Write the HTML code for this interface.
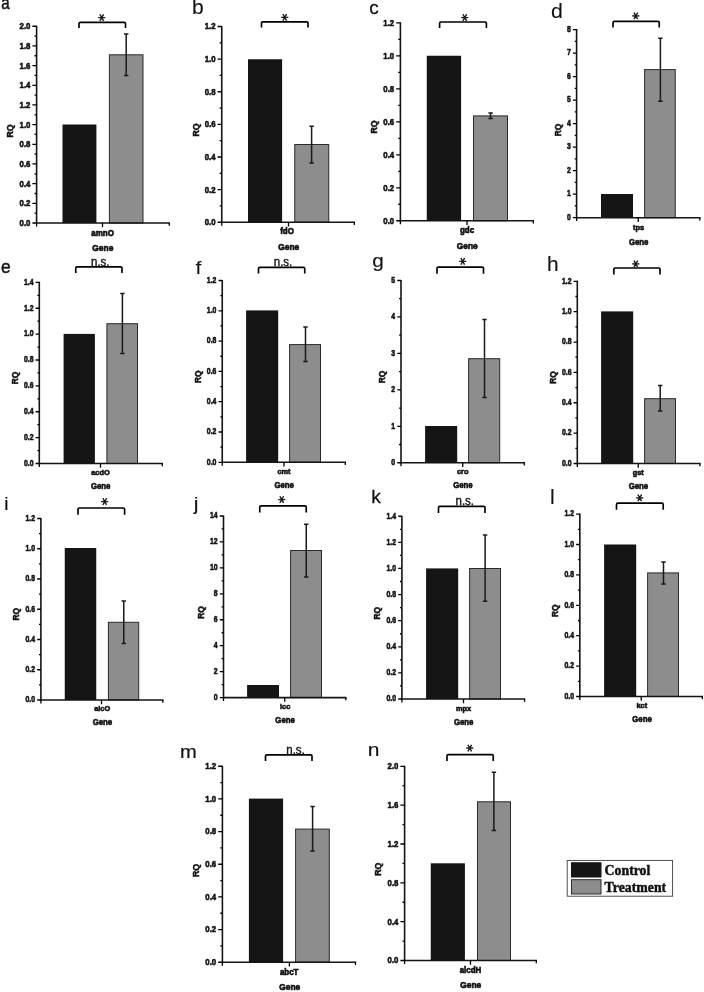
<!DOCTYPE html>
<html><head><meta charset="utf-8"><title>RQ gene expression</title>
<style>
html,body{margin:0;padding:0;background:#fff}
svg{display:block}
text{font-family:"Liberation Sans",Arial,sans-serif;fill:#111}
.t{font-size:7.8px;font-weight:bold;stroke:#111;stroke-width:.5px}
.gn{font-size:7.8px;font-weight:bold;stroke:#111;stroke-width:.6px}
.G{font-size:8.4px;font-weight:bold;stroke:#111;stroke-width:.6px}
.rq{font-size:8.8px;font-weight:bold;stroke:#111;stroke-width:.5px}
.L{font-size:19px;stroke:#111}
.ns{font-size:13.7px;stroke:#111;stroke-width:.42px}
.s{font-size:14.5px;stroke:#111;stroke-width:.6px;font-family:"DejaVu Sans",sans-serif}
.lg{font-family:"Liberation Serif","Times New Roman",serif;font-weight:bold;font-size:13.8px;stroke:#111;stroke-width:.45px}
</style></head><body>
<svg width="704" height="992" viewBox="0 0 704 992">
<rect width="704" height="992" fill="#fff"/>
<g><rect x="62.5" y="124.5" width="33.9" height="98.5" fill="#151515"/><rect x="109.4" y="54.8" width="33.6" height="168.2" fill="#8d8d8d" stroke="#2a2a2a" stroke-width="1"/><path d="M126.2 34V75.5M124 34H128.4M124 75.5H128.4" stroke="#1a1a1a" stroke-width="1.5" fill="none"/><path d="M36.6 25.65V223H170" stroke="#141414" stroke-width="1.6" fill="none" stroke-linejoin="miter"/><path d="M36.6 223h-4.2M36.6 213.16h-2.1M36.6 203.32h-4.2M36.6 193.49h-2.1M36.6 183.65h-4.2M36.6 173.81h-2.1M36.6 163.97h-4.2M36.6 154.14h-2.1M36.6 144.3h-4.2M36.6 134.46h-2.1M36.6 124.62h-4.2M36.6 114.79h-2.1M36.6 104.95h-4.2M36.6 95.11h-2.1M36.6 85.28h-4.2M36.6 75.44h-2.1M36.6 65.6h-4.2M36.6 55.76h-2.1M36.6 45.93h-4.2M36.6 36.09h-2.1M36.6 26.25h-4.2M36.6 223v3.4M102.5 223v4.2M169.3 223v2.7" stroke="#000" stroke-width="1.3" fill="none"/><text transform="translate(30.4 225.9) scale(1 1.12)" text-anchor="end" class="t">0.0</text><text transform="translate(30.4 206.22) scale(1 1.12)" text-anchor="end" class="t">0.2</text><text transform="translate(30.4 186.55) scale(1 1.12)" text-anchor="end" class="t">0.4</text><text transform="translate(30.4 166.88) scale(1 1.12)" text-anchor="end" class="t">0.6</text><text transform="translate(30.4 147.2) scale(1 1.12)" text-anchor="end" class="t">0.8</text><text transform="translate(30.4 127.53) scale(1 1.12)" text-anchor="end" class="t">1.0</text><text transform="translate(30.4 107.85) scale(1 1.12)" text-anchor="end" class="t">1.2</text><text transform="translate(30.4 88.18) scale(1 1.12)" text-anchor="end" class="t">1.4</text><text transform="translate(30.4 68.5) scale(1 1.12)" text-anchor="end" class="t">1.6</text><text transform="translate(30.4 48.83) scale(1 1.12)" text-anchor="end" class="t">1.8</text><text transform="translate(30.4 29.15) scale(1 1.12)" text-anchor="end" class="t">2.0</text><path d="M79 28V23.6Q79 22.3 80.3 22.3H124.2Q125.5 22.3 125.5 23.6V28" stroke="#000" stroke-width="1.65" fill="none"/><text transform="translate(103 17.6) rotate(90)" x="-3.55" y="7.54" class="s">*</text><text transform="translate(102.6 235.9) scale(1.02 1.12)" text-anchor="middle" class="gn">amnO</text><text transform="translate(102.8 251.1) scale(1.000 1.150)" text-anchor="middle" class="G">Gene</text><text transform="translate(12.7 131) rotate(-90) scale(1.0 1.0)" text-anchor="middle" class="rq">RQ</text><text transform="translate(1.15 9.40) scale(0.800 0.95)" stroke-width="0.50" class="L">a</text></g>
<g><rect x="248" y="59.25" width="34.1" height="163" fill="#151515"/><rect x="294.75" y="144.5" width="34" height="77.75" fill="#8d8d8d" stroke="#2a2a2a" stroke-width="1"/><path d="M311.6 126.3V163M309.4 126.3H313.8M309.4 163H313.8" stroke="#1a1a1a" stroke-width="1.5" fill="none"/><path d="M221.75 25.9V222.25H355" stroke="#141414" stroke-width="1.6" fill="none" stroke-linejoin="miter"/><path d="M221.75 222.25h-4.2M221.75 205.94h-2.1M221.75 189.62h-4.2M221.75 173.31h-2.1M221.75 157h-4.2M221.75 140.69h-2.1M221.75 124.38h-4.2M221.75 108.06h-2.1M221.75 91.75h-4.2M221.75 75.44h-2.1M221.75 59.12h-4.2M221.75 42.81h-2.1M221.75 26.5h-4.2M221.75 222.25v3.4M288.5 222.25v4.2M354.3 222.25v2.7" stroke="#000" stroke-width="1.3" fill="none"/><text transform="translate(215.55 225.15) scale(1 1.12)" text-anchor="end" class="t">0.0</text><text transform="translate(215.55 192.53) scale(1 1.12)" text-anchor="end" class="t">0.2</text><text transform="translate(215.55 159.9) scale(1 1.12)" text-anchor="end" class="t">0.4</text><text transform="translate(215.55 127.28) scale(1 1.12)" text-anchor="end" class="t">0.6</text><text transform="translate(215.55 94.65) scale(1 1.12)" text-anchor="end" class="t">0.8</text><text transform="translate(215.55 62.02) scale(1 1.12)" text-anchor="end" class="t">1.0</text><text transform="translate(215.55 29.4) scale(1 1.12)" text-anchor="end" class="t">1.2</text><path d="M261.5 27.5V23.1Q261.5 21.8 262.8 21.8H306.7Q308 21.8 308 23.1V27.5" stroke="#000" stroke-width="1.65" fill="none"/><text transform="translate(285.6 17.4) rotate(90)" x="-3.55" y="7.54" class="s">*</text><text transform="translate(287 234.4) scale(1.02 1.12)" text-anchor="middle" class="gn">fdO</text><text transform="translate(288.7 249.85) scale(1.000 1.150)" text-anchor="middle" class="G">Gene</text><text transform="translate(199.2 130) rotate(-90) scale(1.0 1.0)" text-anchor="middle" class="rq">RQ</text><text transform="translate(192.12 13.75) scale(1.106 1.06)" stroke-width="0.11" class="L">b</text></g>
<g><rect x="426.75" y="55.75" width="34.35" height="165" fill="#151515"/><rect x="473.5" y="115.9" width="34" height="104.85" fill="#8d8d8d" stroke="#2a2a2a" stroke-width="1"/><path d="M490.6 113.1V118.5M488.4 113.1H492.8M488.4 118.5H492.8" stroke="#1a1a1a" stroke-width="1.5" fill="none"/><path d="M400.4 22.3V220.75H534" stroke="#141414" stroke-width="1.6" fill="none" stroke-linejoin="miter"/><path d="M400.4 220.75h-4.2M400.4 204.26h-2.1M400.4 187.78h-4.2M400.4 171.29h-2.1M400.4 154.8h-4.2M400.4 138.31h-2.1M400.4 121.83h-4.2M400.4 105.34h-2.1M400.4 88.85h-4.2M400.4 72.36h-2.1M400.4 55.88h-4.2M400.4 39.39h-2.1M400.4 22.9h-4.2M400.4 220.75v3.4M467 220.75v4.2M533.3 220.75v2.7" stroke="#000" stroke-width="1.3" fill="none"/><text transform="translate(394.2 223.65) scale(1 1.12)" text-anchor="end" class="t">0.0</text><text transform="translate(394.2 190.68) scale(1 1.12)" text-anchor="end" class="t">0.2</text><text transform="translate(394.2 157.7) scale(1 1.12)" text-anchor="end" class="t">0.4</text><text transform="translate(394.2 124.73) scale(1 1.12)" text-anchor="end" class="t">0.6</text><text transform="translate(394.2 91.75) scale(1 1.12)" text-anchor="end" class="t">0.8</text><text transform="translate(394.2 58.77) scale(1 1.12)" text-anchor="end" class="t">1.0</text><text transform="translate(394.2 25.8) scale(1 1.12)" text-anchor="end" class="t">1.2</text><path d="M439.6 27.9V23.3Q439.6 22 440.9 22H485.1Q486.4 22 486.4 23.3V27.9" stroke="#000" stroke-width="1.65" fill="none"/><text transform="translate(465.2 17.6) rotate(90)" x="-3.55" y="7.54" class="s">*</text><text transform="translate(467 233.4) scale(1.02 1.12)" text-anchor="middle" class="gn">gdc</text><text transform="translate(467.2 248.6) scale(1.000 1.150)" text-anchor="middle" class="G">Gene</text><text transform="translate(377.2 127) rotate(-90) scale(1.0 1.0)" text-anchor="middle" class="rq">RQ</text><text transform="translate(369.36 14.00) scale(0.988 0.95)" stroke-width="0.32" class="L">c</text></g>
<g><rect x="601" y="194" width="32" height="23.7" fill="#151515"/><rect x="644.6" y="69.6" width="30.65" height="148.1" fill="#8d8d8d" stroke="#2a2a2a" stroke-width="1"/><path d="M660.4 38.25V101.25M658.2 38.25H662.6M658.2 101.25H662.6" stroke="#1a1a1a" stroke-width="1.5" fill="none"/><path d="M576.6 29V217.7H700.5" stroke="#141414" stroke-width="1.6" fill="none" stroke-linejoin="miter"/><path d="M576.6 217.7h-3.7M576.6 205.94h-1.9M576.6 194.19h-3.7M576.6 182.43h-1.9M576.6 170.67h-3.7M576.6 158.92h-1.9M576.6 147.16h-3.7M576.6 135.41h-1.9M576.6 123.65h-3.7M576.6 111.89h-1.9M576.6 100.14h-3.7M576.6 88.38h-1.9M576.6 76.62h-3.7M576.6 64.87h-1.9M576.6 53.11h-3.7M576.6 41.36h-1.9M576.6 29.6h-3.7M576.6 217.7v3.4M638.25 217.7v4.2M699.8 217.7v2.7" stroke="#000" stroke-width="1.3" fill="none"/><text transform="translate(570.8 220) scale(0.885 1.14)" text-anchor="end" class="t">0</text><text transform="translate(570.8 196.49) scale(0.885 1.14)" text-anchor="end" class="t">1</text><text transform="translate(570.8 172.97) scale(0.885 1.14)" text-anchor="end" class="t">2</text><text transform="translate(570.8 149.46) scale(0.885 1.14)" text-anchor="end" class="t">3</text><text transform="translate(570.8 125.95) scale(0.885 1.14)" text-anchor="end" class="t">4</text><text transform="translate(570.8 102.44) scale(0.885 1.14)" text-anchor="end" class="t">5</text><text transform="translate(570.8 78.92) scale(0.885 1.14)" text-anchor="end" class="t">6</text><text transform="translate(570.8 55.41) scale(0.885 1.14)" text-anchor="end" class="t">7</text><text transform="translate(570.8 31.9) scale(0.885 1.14)" text-anchor="end" class="t">8</text><path d="M613 27.5V22.6Q613 21.3 614.3 21.3H657.95Q659.25 21.3 659.25 22.6V27.5" stroke="#000" stroke-width="1.65" fill="none"/><text transform="translate(636.5 15.9) rotate(90)" x="-3.55" y="7.54" class="s">*</text><text transform="translate(638.5 230.2) scale(0.95 0.94)" text-anchor="middle" class="gn">tps</text><text transform="translate(638.7 244.63) scale(0.930 1.069)" text-anchor="middle" class="G">Gene</text><text transform="translate(560.9 130) rotate(-90) scale(0.95 1.04)" text-anchor="middle" class="rq">RQ</text><text transform="translate(551.08 17.90) scale(1.120 1.06)" stroke-width="0.09" class="L">d</text></g>
<g><rect x="63.6" y="333.9" width="31.3" height="129.6" fill="#151515"/><rect x="106.9" y="323.7" width="30.6" height="139.8" fill="#8d8d8d" stroke="#2a2a2a" stroke-width="1"/><path d="M122.4 293.5V353.5M120.2 293.5H124.6M120.2 353.5H124.6" stroke="#1a1a1a" stroke-width="1.5" fill="none"/><path d="M39.3 281.8V463.5H163" stroke="#141414" stroke-width="1.6" fill="none" stroke-linejoin="miter"/><path d="M39.3 463.5h-3.7M39.3 450.56h-1.9M39.3 437.63h-3.7M39.3 424.69h-1.9M39.3 411.76h-3.7M39.3 398.82h-1.9M39.3 385.89h-3.7M39.3 372.95h-1.9M39.3 360.01h-3.7M39.3 347.08h-1.9M39.3 334.14h-3.7M39.3 321.21h-1.9M39.3 308.27h-3.7M39.3 295.34h-1.9M39.3 282.4h-3.7M39.3 463.5v3.4M100.5 463.5v4.2M162.3 463.5v2.7" stroke="#000" stroke-width="1.3" fill="none"/><text transform="translate(33.5 465.8) scale(0.885 1.14)" text-anchor="end" class="t">0.0</text><text transform="translate(33.5 439.93) scale(0.885 1.14)" text-anchor="end" class="t">0.2</text><text transform="translate(33.5 414.06) scale(0.885 1.14)" text-anchor="end" class="t">0.4</text><text transform="translate(33.5 388.19) scale(0.885 1.14)" text-anchor="end" class="t">0.6</text><text transform="translate(33.5 362.31) scale(0.885 1.14)" text-anchor="end" class="t">0.8</text><text transform="translate(33.5 336.44) scale(0.885 1.14)" text-anchor="end" class="t">1.0</text><text transform="translate(33.5 310.57) scale(0.885 1.14)" text-anchor="end" class="t">1.2</text><text transform="translate(33.5 284.7) scale(0.885 1.14)" text-anchor="end" class="t">1.4</text><path d="M75.75 273V268.1Q75.75 266.8 77.05 266.8H120.7Q122 266.8 122 268.1V273" stroke="#000" stroke-width="1.65" fill="none"/><text transform="translate(100.3 265.7) scale(0.84 1)" text-anchor="middle" class="ns">n.s.</text><text transform="translate(100.5 474.7) scale(0.95 0.94)" text-anchor="middle" class="gn">acdO</text><text transform="translate(100.7 488.88) scale(0.930 1.069)" text-anchor="middle" class="G">Gene</text><text transform="translate(17.9 378) rotate(-90) scale(0.95 1.04)" text-anchor="middle" class="rq">RQ</text><text transform="translate(1.06 273.40) scale(0.917 0.95)" stroke-width="0.48" class="L">e</text></g>
<g><rect x="246.1" y="310.4" width="32.1" height="151.9" fill="#151515"/><rect x="289.6" y="344.6" width="30.9" height="117.7" fill="#8d8d8d" stroke="#2a2a2a" stroke-width="1"/><path d="M305.5 327.1V361.5M303.3 327.1H307.7M303.3 361.5H307.7" stroke="#1a1a1a" stroke-width="1.5" fill="none"/><path d="M222.25 279.9V462.3H346" stroke="#141414" stroke-width="1.6" fill="none" stroke-linejoin="miter"/><path d="M222.25 462.3h-3.7M222.25 447.15h-1.9M222.25 432h-3.7M222.25 416.85h-1.9M222.25 401.7h-3.7M222.25 386.55h-1.9M222.25 371.4h-3.7M222.25 356.25h-1.9M222.25 341.1h-3.7M222.25 325.95h-1.9M222.25 310.8h-3.7M222.25 295.65h-1.9M222.25 280.5h-3.7M222.25 462.3v3.4M284 462.3v4.2M345.3 462.3v2.7" stroke="#000" stroke-width="1.3" fill="none"/><text transform="translate(216.45 464.6) scale(0.885 1.14)" text-anchor="end" class="t">0.0</text><text transform="translate(216.45 434.3) scale(0.885 1.14)" text-anchor="end" class="t">0.2</text><text transform="translate(216.45 404) scale(0.885 1.14)" text-anchor="end" class="t">0.4</text><text transform="translate(216.45 373.7) scale(0.885 1.14)" text-anchor="end" class="t">0.6</text><text transform="translate(216.45 343.4) scale(0.885 1.14)" text-anchor="end" class="t">0.8</text><text transform="translate(216.45 313.1) scale(0.885 1.14)" text-anchor="end" class="t">1.0</text><text transform="translate(216.45 282.8) scale(0.885 1.14)" text-anchor="end" class="t">1.2</text><path d="M258.5 273.6V268.6Q258.5 267.3 259.8 267.3H303.45Q304.75 267.3 304.75 268.6V273.6" stroke="#000" stroke-width="1.65" fill="none"/><text transform="translate(283.05 265.7) scale(0.84 1)" text-anchor="middle" class="ns">n.s.</text><text transform="translate(284 473.7) scale(0.95 0.94)" text-anchor="middle" class="gn">cmt</text><text transform="translate(284.2 487.88) scale(0.930 1.069)" text-anchor="middle" class="G">Gene</text><text transform="translate(200.9 376.75) rotate(-90) scale(0.95 1.04)" text-anchor="middle" class="rq">RQ</text><text transform="translate(195.42 274.40) scale(1.120 1.0)" stroke-width="0.09" class="L">f</text></g>
<g><rect x="425.1" y="426" width="32.1" height="36.75" fill="#151515"/><rect x="468.6" y="358.7" width="31.1" height="104.05" fill="#8d8d8d" stroke="#2a2a2a" stroke-width="1"/><path d="M484.5 319.5V397.5M482.3 319.5H486.7M482.3 397.5H486.7" stroke="#1a1a1a" stroke-width="1.5" fill="none"/><path d="M401 279.9V462.75H525" stroke="#141414" stroke-width="1.6" fill="none" stroke-linejoin="miter"/><path d="M401 462.75h-3.7M401 444.52h-1.9M401 426.3h-3.7M401 408.07h-1.9M401 389.85h-3.7M401 371.62h-1.9M401 353.4h-3.7M401 335.17h-1.9M401 316.95h-3.7M401 298.72h-1.9M401 280.5h-3.7M401 462.75v3.4M462.75 462.75v4.2M524.3 462.75v2.7" stroke="#000" stroke-width="1.3" fill="none"/><text transform="translate(395.2 465.05) scale(0.885 1.14)" text-anchor="end" class="t">0</text><text transform="translate(395.2 428.6) scale(0.885 1.14)" text-anchor="end" class="t">1</text><text transform="translate(395.2 392.15) scale(0.885 1.14)" text-anchor="end" class="t">2</text><text transform="translate(395.2 355.7) scale(0.885 1.14)" text-anchor="end" class="t">3</text><text transform="translate(395.2 319.25) scale(0.885 1.14)" text-anchor="end" class="t">4</text><text transform="translate(395.2 282.8) scale(0.885 1.14)" text-anchor="end" class="t">5</text><path d="M437 273.75V268.35Q437 267.05 438.3 267.05H482.2Q483.5 267.05 483.5 268.35V273.75" stroke="#000" stroke-width="1.65" fill="none"/><text transform="translate(463.1 261.4) rotate(90)" x="-3.55" y="7.54" class="s">*</text><text transform="translate(462.75 474.2) scale(0.95 0.94)" text-anchor="middle" class="gn">cro</text><text transform="translate(462.95 488.38) scale(0.930 1.069)" text-anchor="middle" class="G">Gene</text><text transform="translate(385.4 377) rotate(-90) scale(0.95 1.04)" text-anchor="middle" class="rq">RQ</text><text transform="translate(372.18 266.50) scale(1.090 0.95)" stroke-width="0.14" class="L">g</text></g>
<g><rect x="601.1" y="311.4" width="32.1" height="152.1" fill="#151515"/><rect x="644.6" y="398.7" width="30.9" height="64.8" fill="#8d8d8d" stroke="#2a2a2a" stroke-width="1"/><path d="M660.2 385.4V411M658 385.4H662.4M658 411H662.4" stroke="#1a1a1a" stroke-width="1.5" fill="none"/><path d="M577.3 280.7V463.5H700.6" stroke="#141414" stroke-width="1.6" fill="none" stroke-linejoin="miter"/><path d="M577.3 463.5h-3.7M577.3 448.32h-1.9M577.3 433.13h-3.7M577.3 417.95h-1.9M577.3 402.77h-3.7M577.3 387.58h-1.9M577.3 372.4h-3.7M577.3 357.22h-1.9M577.3 342.03h-3.7M577.3 326.85h-1.9M577.3 311.67h-3.7M577.3 296.48h-1.9M577.3 281.3h-3.7M577.3 463.5v3.4M638.25 463.5v4.2M699.9 463.5v2.7" stroke="#000" stroke-width="1.3" fill="none"/><text transform="translate(571.5 465.8) scale(0.885 1.14)" text-anchor="end" class="t">0.0</text><text transform="translate(571.5 435.43) scale(0.885 1.14)" text-anchor="end" class="t">0.2</text><text transform="translate(571.5 405.07) scale(0.885 1.14)" text-anchor="end" class="t">0.4</text><text transform="translate(571.5 374.7) scale(0.885 1.14)" text-anchor="end" class="t">0.6</text><text transform="translate(571.5 344.33) scale(0.885 1.14)" text-anchor="end" class="t">0.8</text><text transform="translate(571.5 313.97) scale(0.885 1.14)" text-anchor="end" class="t">1.0</text><text transform="translate(571.5 283.6) scale(0.885 1.14)" text-anchor="end" class="t">1.2</text><path d="M613.8 274.5V269.3Q613.8 268 615.1 268H658.7Q660 268 660 269.3V274.5" stroke="#000" stroke-width="1.65" fill="none"/><text transform="translate(636.7 263.9) rotate(90)" x="-3.55" y="7.54" class="s">*</text><text transform="translate(638.25 475.2) scale(0.95 0.94)" text-anchor="middle" class="gn">gst</text><text transform="translate(638.45 489.13) scale(0.930 1.069)" text-anchor="middle" class="G">Gene</text><text transform="translate(556.4 377.5) rotate(-90) scale(0.95 1.04)" text-anchor="middle" class="rq">RQ</text><text transform="translate(547.09 270.60) scale(1.100 1.06)" stroke-width="0.12" class="L">h</text></g>
<g><rect x="64.75" y="548" width="31.5" height="152" fill="#151515"/><rect x="108.4" y="622.3" width="30.3" height="77.7" fill="#8d8d8d" stroke="#2a2a2a" stroke-width="1"/><path d="M123.75 601.1V643.5M121.55 601.1H125.95M121.55 643.5H125.95" stroke="#1a1a1a" stroke-width="1.5" fill="none"/><path d="M40.9 517.9V700H163.5" stroke="#141414" stroke-width="1.6" fill="none" stroke-linejoin="miter"/><path d="M40.9 700h-3.7M40.9 684.88h-1.9M40.9 669.75h-3.7M40.9 654.62h-1.9M40.9 639.5h-3.7M40.9 624.38h-1.9M40.9 609.25h-3.7M40.9 594.12h-1.9M40.9 579h-3.7M40.9 563.88h-1.9M40.9 548.75h-3.7M40.9 533.62h-1.9M40.9 518.5h-3.7M40.9 700v3.4M101.5 700v4.2M162.8 700v2.7" stroke="#000" stroke-width="1.3" fill="none"/><text transform="translate(35.1 702.3) scale(0.885 1.14)" text-anchor="end" class="t">0.0</text><text transform="translate(35.1 672.05) scale(0.885 1.14)" text-anchor="end" class="t">0.2</text><text transform="translate(35.1 641.8) scale(0.885 1.14)" text-anchor="end" class="t">0.4</text><text transform="translate(35.1 611.55) scale(0.885 1.14)" text-anchor="end" class="t">0.6</text><text transform="translate(35.1 581.3) scale(0.885 1.14)" text-anchor="end" class="t">0.8</text><text transform="translate(35.1 551.05) scale(0.885 1.14)" text-anchor="end" class="t">1.0</text><text transform="translate(35.1 520.8) scale(0.885 1.14)" text-anchor="end" class="t">1.2</text><path d="M78 514.7V509.3Q78 508 79.3 508H123.3Q124.6 508 124.6 509.3V514.7" stroke="#000" stroke-width="1.65" fill="none"/><text transform="translate(105.5 501.5) rotate(90)" x="-3.55" y="7.54" class="s">*</text><text transform="translate(102.2 711.45) scale(0.95 0.94)" text-anchor="middle" class="gn">alcO</text><text transform="translate(102.4 725.38) scale(0.930 1.069)" text-anchor="middle" class="G">Gene</text><text transform="translate(19.15 614.25) rotate(-90) scale(0.95 1.04)" text-anchor="middle" class="rq">RQ</text><text transform="translate(3.99 509.50) scale(1.120 1.0)" stroke-width="0.09" class="L">i</text></g>
<g><rect x="247.1" y="685" width="31.9" height="12.6" fill="#151515"/><rect x="290.6" y="550.5" width="30.9" height="147.1" fill="#8d8d8d" stroke="#2a2a2a" stroke-width="1"/><path d="M306.25 524.25V576.9M304.05 524.25H308.45M304.05 576.9H308.45" stroke="#1a1a1a" stroke-width="1.5" fill="none"/><path d="M223.5 515.4V697.6H346.5" stroke="#141414" stroke-width="1.6" fill="none" stroke-linejoin="miter"/><path d="M223.5 697.6h-3.7M223.5 684.63h-1.9M223.5 671.66h-3.7M223.5 658.69h-1.9M223.5 645.71h-3.7M223.5 632.74h-1.9M223.5 619.77h-3.7M223.5 606.8h-1.9M223.5 593.83h-3.7M223.5 580.86h-1.9M223.5 567.89h-3.7M223.5 554.91h-1.9M223.5 541.94h-3.7M223.5 528.97h-1.9M223.5 516h-3.7M223.5 697.6v3.4M284.75 697.6v4.2M345.8 697.6v2.7" stroke="#000" stroke-width="1.3" fill="none"/><text transform="translate(217.7 699.9) scale(0.885 1.14)" text-anchor="end" class="t">0</text><text transform="translate(217.7 673.96) scale(0.885 1.14)" text-anchor="end" class="t">2</text><text transform="translate(217.7 648.01) scale(0.885 1.14)" text-anchor="end" class="t">4</text><text transform="translate(217.7 622.07) scale(0.885 1.14)" text-anchor="end" class="t">6</text><text transform="translate(217.7 596.13) scale(0.885 1.14)" text-anchor="end" class="t">8</text><text transform="translate(217.7 570.19) scale(0.885 1.14)" text-anchor="end" class="t">10</text><text transform="translate(217.7 544.24) scale(0.885 1.14)" text-anchor="end" class="t">12</text><text transform="translate(217.7 518.3) scale(0.885 1.14)" text-anchor="end" class="t">14</text><path d="M259.75 512.5V507.1Q259.75 505.8 261.05 505.8H304.95Q306.25 505.8 306.25 507.1V512.5" stroke="#000" stroke-width="1.65" fill="none"/><text transform="translate(282.7 499.6) rotate(90)" x="-3.55" y="7.54" class="s">*</text><text transform="translate(285.1 709.3) scale(0.95 0.94)" text-anchor="middle" class="gn">lcc</text><text transform="translate(285.1 723.48) scale(0.930 1.069)" text-anchor="middle" class="G">Gene</text><text transform="translate(203.9 612.5) rotate(-90) scale(0.95 1.04)" text-anchor="middle" class="rq">RQ</text><text transform="translate(193.85 510.00) scale(1.120 1.0)" stroke-width="0.09" class="L">j</text></g>
<g><rect x="426.1" y="568.4" width="32.1" height="130.6" fill="#151515"/><rect x="469.6" y="568.5" width="30.9" height="130.5" fill="#8d8d8d" stroke="#2a2a2a" stroke-width="1"/><path d="M485.1 535V601.25M482.9 535H487.3M482.9 601.25H487.3" stroke="#1a1a1a" stroke-width="1.5" fill="none"/><path d="M401.9 515.65V699H525.25" stroke="#141414" stroke-width="1.6" fill="none" stroke-linejoin="miter"/><path d="M401.9 699h-3.7M401.9 685.95h-1.9M401.9 672.89h-3.7M401.9 659.84h-1.9M401.9 646.79h-3.7M401.9 633.73h-1.9M401.9 620.68h-3.7M401.9 607.62h-1.9M401.9 594.57h-3.7M401.9 581.52h-1.9M401.9 568.46h-3.7M401.9 555.41h-1.9M401.9 542.36h-3.7M401.9 529.3h-1.9M401.9 516.25h-3.7M401.9 699v3.4M463.5 699v4.2M524.55 699v2.7" stroke="#000" stroke-width="1.3" fill="none"/><text transform="translate(396.1 701.3) scale(0.885 1.14)" text-anchor="end" class="t">0.0</text><text transform="translate(396.1 675.19) scale(0.885 1.14)" text-anchor="end" class="t">0.2</text><text transform="translate(396.1 649.09) scale(0.885 1.14)" text-anchor="end" class="t">0.4</text><text transform="translate(396.1 622.98) scale(0.885 1.14)" text-anchor="end" class="t">0.6</text><text transform="translate(396.1 596.87) scale(0.885 1.14)" text-anchor="end" class="t">0.8</text><text transform="translate(396.1 570.76) scale(0.885 1.14)" text-anchor="end" class="t">1.0</text><text transform="translate(396.1 544.66) scale(0.885 1.14)" text-anchor="end" class="t">1.2</text><text transform="translate(396.1 518.55) scale(0.885 1.14)" text-anchor="end" class="t">1.4</text><path d="M438.5 513V507.6Q438.5 506.3 439.8 506.3H483.7Q485 506.3 485 507.6V513" stroke="#000" stroke-width="1.65" fill="none"/><text transform="translate(464.8 504.95) scale(0.84 1)" text-anchor="middle" class="ns">n.s.</text><text transform="translate(463.5 710.7) scale(0.95 0.94)" text-anchor="middle" class="gn">mpx</text><text transform="translate(463.7 724.88) scale(0.930 1.069)" text-anchor="middle" class="G">Gene</text><text transform="translate(380.4 613.25) rotate(-90) scale(0.95 1.04)" text-anchor="middle" class="rq">RQ</text><text transform="translate(371.13 502.60) scale(1.012 1.0)" stroke-width="0.28" class="L">k</text></g>
<g><rect x="604.1" y="544.5" width="32.1" height="152" fill="#151515"/><rect x="647.6" y="572.9" width="30.9" height="123.6" fill="#8d8d8d" stroke="#2a2a2a" stroke-width="1"/><path d="M663.5 561.9V584M661.3 561.9H665.7M661.3 584H665.7" stroke="#1a1a1a" stroke-width="1.5" fill="none"/><path d="M579.85 513.5V696.5H703" stroke="#141414" stroke-width="1.6" fill="none" stroke-linejoin="miter"/><path d="M579.85 696.5h-3.7M579.85 681.3h-1.9M579.85 666.1h-3.7M579.85 650.9h-1.9M579.85 635.7h-3.7M579.85 620.5h-1.9M579.85 605.3h-3.7M579.85 590.1h-1.9M579.85 574.9h-3.7M579.85 559.7h-1.9M579.85 544.5h-3.7M579.85 529.3h-1.9M579.85 514.1h-3.7M579.85 696.5v3.4M641.25 696.5v4.2M702.3 696.5v2.7" stroke="#000" stroke-width="1.3" fill="none"/><text transform="translate(574.05 698.8) scale(0.885 1.14)" text-anchor="end" class="t">0.0</text><text transform="translate(574.05 668.4) scale(0.885 1.14)" text-anchor="end" class="t">0.2</text><text transform="translate(574.05 638) scale(0.885 1.14)" text-anchor="end" class="t">0.4</text><text transform="translate(574.05 607.6) scale(0.885 1.14)" text-anchor="end" class="t">0.6</text><text transform="translate(574.05 577.2) scale(0.885 1.14)" text-anchor="end" class="t">0.8</text><text transform="translate(574.05 546.8) scale(0.885 1.14)" text-anchor="end" class="t">1.0</text><text transform="translate(574.05 516.4) scale(0.885 1.14)" text-anchor="end" class="t">1.2</text><path d="M616.5 509.7V504.4Q616.5 503.1 617.8 503.1H661.9Q663.2 503.1 663.2 504.4V509.7" stroke="#000" stroke-width="1.65" fill="none"/><text transform="translate(640.4 497.8) rotate(90)" x="-3.55" y="7.54" class="s">*</text><text transform="translate(641.8 707.7) scale(0.95 0.94)" text-anchor="middle" class="gn">kct</text><text transform="translate(642 721.88) scale(0.930 1.069)" text-anchor="middle" class="G">Gene</text><text transform="translate(558.4 610.75) rotate(-90) scale(0.95 1.04)" text-anchor="middle" class="rq">RQ</text><text transform="translate(549.97 503.50) scale(1.120 1.06)" stroke-width="0.09" class="L">l</text></g>
<g><rect x="248.9" y="798.6" width="34.2" height="163.65" fill="#151515"/><rect x="295.6" y="829.1" width="33.7" height="133.15" fill="#8d8d8d" stroke="#2a2a2a" stroke-width="1"/><path d="M312.6 806.6V851M310.4 806.6H314.8M310.4 851H314.8" stroke="#1a1a1a" stroke-width="1.5" fill="none"/><path d="M222.4 765.65V962.25H356.2" stroke="#141414" stroke-width="1.6" fill="none" stroke-linejoin="miter"/><path d="M222.4 962.25h-4.2M222.4 945.92h-2.1M222.4 929.58h-4.2M222.4 913.25h-2.1M222.4 896.92h-4.2M222.4 880.58h-2.1M222.4 864.25h-4.2M222.4 847.92h-2.1M222.4 831.58h-4.2M222.4 815.25h-2.1M222.4 798.92h-4.2M222.4 782.58h-2.1M222.4 766.25h-4.2M222.4 962.25v3.4M289.4 962.25v4.2M355.5 962.25v2.7" stroke="#000" stroke-width="1.3" fill="none"/><text transform="translate(216.2 965.15) scale(1 1.12)" text-anchor="end" class="t">0.0</text><text transform="translate(216.2 932.48) scale(1 1.12)" text-anchor="end" class="t">0.2</text><text transform="translate(216.2 899.82) scale(1 1.12)" text-anchor="end" class="t">0.4</text><text transform="translate(216.2 867.15) scale(1 1.12)" text-anchor="end" class="t">0.6</text><text transform="translate(216.2 834.48) scale(1 1.12)" text-anchor="end" class="t">0.8</text><text transform="translate(216.2 801.82) scale(1 1.12)" text-anchor="end" class="t">1.0</text><text transform="translate(216.2 769.15) scale(1 1.12)" text-anchor="end" class="t">1.2</text><path d="M265.5 761V756.1Q265.5 754.8 266.8 754.8H310.7Q312 754.8 312 756.1V761" stroke="#000" stroke-width="1.65" fill="none"/><text transform="translate(295.55 753.7) scale(0.84 1)" text-anchor="middle" class="ns">n.s.</text><text transform="translate(289.2 975.15) scale(1.02 1.12)" text-anchor="middle" class="gn">abcT</text><text transform="translate(289.7 989.85) scale(1.000 1.150)" text-anchor="middle" class="G">Gene</text><text transform="translate(199.2 870.5) rotate(-90) scale(1.0 1.0)" text-anchor="middle" class="rq">RQ</text><text transform="translate(179.93 757.50) scale(1.058 0.95)" stroke-width="0.19" class="L">m</text></g>
<g><rect x="430.75" y="863.3" width="34.15" height="97.2" fill="#151515"/><rect x="477.5" y="801.8" width="33" height="158.7" fill="#8d8d8d" stroke="#2a2a2a" stroke-width="1"/><path d="M493.9 772.25V830.4M491.7 772.25H496.1M491.7 830.4H496.1" stroke="#1a1a1a" stroke-width="1.5" fill="none"/><path d="M404.6 765.7V960.5H537" stroke="#141414" stroke-width="1.6" fill="none" stroke-linejoin="miter"/><path d="M404.6 960.5h-4.2M404.6 941.08h-2.1M404.6 921.66h-4.2M404.6 902.24h-2.1M404.6 882.82h-4.2M404.6 863.4h-2.1M404.6 843.98h-4.2M404.6 824.56h-2.1M404.6 805.14h-4.2M404.6 785.72h-2.1M404.6 766.3h-4.2M404.6 960.5v3.4M470.5 960.5v4.2M536.3 960.5v2.7" stroke="#000" stroke-width="1.3" fill="none"/><text transform="translate(398.4 963.4) scale(1 1.12)" text-anchor="end" class="t">0.0</text><text transform="translate(398.4 924.56) scale(1 1.12)" text-anchor="end" class="t">0.4</text><text transform="translate(398.4 885.72) scale(1 1.12)" text-anchor="end" class="t">0.8</text><text transform="translate(398.4 846.88) scale(1 1.12)" text-anchor="end" class="t">1.2</text><text transform="translate(398.4 808.04) scale(1 1.12)" text-anchor="end" class="t">1.6</text><text transform="translate(398.4 769.2) scale(1 1.12)" text-anchor="end" class="t">2.0</text><path d="M447 761V755.85Q447 754.55 448.3 754.55H491.95Q493.25 754.55 493.25 755.85V761" stroke="#000" stroke-width="1.65" fill="none"/><text transform="translate(470.3 748.1) rotate(90)" x="-3.55" y="7.54" class="s">*</text><text transform="translate(470.5 973.4) scale(1.02 1.12)" text-anchor="middle" class="gn">alcdH</text><text transform="translate(470.7 988.1) scale(1.000 1.150)" text-anchor="middle" class="G">Gene</text><text transform="translate(381.45 869.25) rotate(-90) scale(1.0 1.0)" text-anchor="middle" class="rq">RQ</text><text transform="translate(367.87 756.00) scale(1.108 0.95)" stroke-width="0.11" class="L">n</text></g>
<g><rect x="567.2" y="860.4" width="105.4" height="35.8" fill="#fff" stroke="#3c3c3c" stroke-width="0.9"/>
<rect x="571" y="862.2" width="30.5" height="15.3" fill="#151515"/>
<rect x="571.5" y="879.7" width="29.5" height="14.3" fill="#8d8d8d" stroke="#2a2a2a" stroke-width="1"/>
<text x="604.6" y="874.5" class="lg">Control</text><text x="604.6" y="891.7" class="lg">Treatment</text></g>
</svg>
</body></html>
